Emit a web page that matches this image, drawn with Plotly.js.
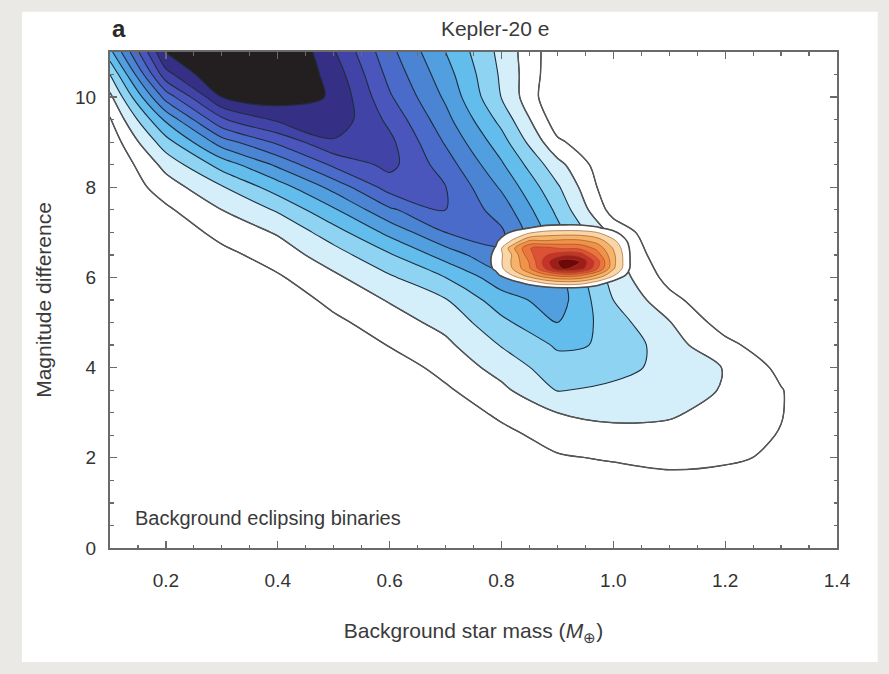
<!DOCTYPE html>
<html><head><meta charset="utf-8">
<script src="https://cdn.plot.ly/plotly-3.0.1.min.js"></script>
<style>html,body{margin:0;padding:0;background:#eae9e5}#chart{width:889px;height:674px}</style>
</head><body><div id="chart"></div>
<script>
// Background star mass grid (x) and magnitude difference grid (y)
const massX = [0.1,0.2,0.3,0.4,0.5,0.6,0.7,0.8,0.9,1.0,1.1,1.2,1.3,1.4];
const magY = [0,0.5,1,1.5,2,2.5,3,3.5,4,4.5,5,5.5,6,6.5,7,7.5,8,8.5,9,9.5,10,10.5,11];
// Background eclipsing binaries density level (rows = magY, cols = massX)
const densityRows = [
  [0,0,0,0,0,0,0,0,0,0,0,0,0,0],
  [0,0,0,0,0,0,0,0,0,0,0,0,0,0],
  [0,0,0,0,0,0,0,0,0,0.08,0.16,0.2,0,0],
  [0,0,0,0,0,0,0,0,0.32,0.52,0.76,0.7,0.3,0],
  [0,0,0,0,0,0,0,0.2,0.88,1.11,1.27,1.14,0.85,0],
  [0,0,0,0,0,0,0,0.68,1.44,1.69,1.73,1.41,0.95,0],
  [0,0,0,0,0,0,0.32,1.24,2.0,2.25,2.12,1.69,1.05,0],
  [0,0,0,0,0,0,0.85,1.77,3.05,2.78,2.41,1.93,1.05,0],
  [0,0,0,0,0,0.46,1.33,2.38,3.58,3.34,2.7,1.95,0.75,0],
  [0,0,0,0,0.24,1.05,1.78,3.06,4.13,3.9,2.38,1.3,0.25,0],
  [0,0,0,0,0.76,1.55,2.31,3.75,5.0,3.45,2.06,0.53,0.05,0],
  [0,0,0,0.3,1.3,2.08,2.93,4.55,5.5,3.0,1.33,0.08,0,0],
  [0,0,0.2,0.88,1.8,2.85,4.0,5.6,5.34,2.64,0.64,0,0,0],
  [0,0,0.7,1.47,2.55,3.89,5.43,6.9,4.89,2.29,0.16,0,0,0],
  [0,0.28,1.33,2.1,3.56,5.29,7.0,7.15,4.33,1.67,0,0,0,0],
  [0,0.82,2.0,3.13,4.86,6.83,8.0,6.57,3.76,0.58,0,0,0,0],
  [0,1.5,2.91,4.5,6.33,8.43,8.03,5.86,3.15,0.12,0,0,0,0],
  [0,2.33,4.41,6.2,8.2,9.3,7.5,5.14,2.34,0,0,0,0,0],
  [0.35,3.57,6.5,8.2,9.86,9.25,6.89,4.43,1.18,0,0,0,0,0],
  [0.9,5.2,8.85,10.19,10.7,8.75,6.33,3.67,0.43,0,0,0,0,0],
  [1.75,7.4,11.0,11.5,10.9,8.13,5.83,2.97,0,0,0,0,0,0],
  [3.0,9.64,12.2,12.2,10.6,7.69,5.42,2.84,0.2,0,0,0,0,0],
  [4.7,11.1,12.5,12.5,10.1,7.3,5.0,2.7,0.3,0,0,0,0,0]
];
// Kepler-20 e candidate region (local grid)
const blobX = [0.76,0.79,0.82,0.85,0.88,0.91,0.94,0.97,1.00,1.03,1.06];
const blobY = [5.6,5.75,5.9,6.05,6.2,6.35,6.5,6.65,6.8,6.95,7.1,7.25];
const blobRows = [
  [-1,-1,-1,-0.92,-0.68,-0.56,-0.6,-0.84,-1,-1,-1],
  [-1,-0.79,-0.25,0.2,0.51,0.66,0.61,0.3,-0.22,-0.89,-1],
  [-0.66,0.06,0.71,1.57,2.44,2.88,2.73,1.85,0.75,-0.06,-0.96],
  [-0.1,0.72,2.05,3.56,4.78,5.46,5.22,3.95,2.15,0.58,-0.42],
  [0.22,1.2,3.05,4.88,7.2,9.2,8.6,6.3,3.17,0.95,-0.13],
  [0.26,1.31,3.2,5.08,7.6,9.6,9.0,6.6,3.32,1.0,-0.09],
  [0.24,1.26,3.12,5.72,6.93,7.8,7.6,5.6,3.24,0.98,-0.1],
  [0.18,1.08,3.72,5.97,6.28,5.84,5.76,4.76,2.92,0.9,-0.2],
  [0.06,0.85,2.22,4.25,4.16,4.36,4.32,3.71,2.31,0.72,-0.26],
  [-0.15,0.56,1.36,2.28,2.76,2.88,2.85,2.46,1.43,0.45,-0.5],
  [-0.45,0.17,0.66,0.99,1.31,1.4,1.38,1.11,0.69,0.08,-0.8],
  [-0.83,-0.3,0.1,0.34,0.46,0.49,0.48,0.39,0.12,-0.38,-1]
];
const blueBands = ['#ffffff','#ffffff','#d4eefa','#8fd3f2','#62bdec','#519fdf','#4a84d3','#4a6bc9','#4a56bb','#4243a6','#362f86','#231f20'];
const orangeBands = ['rgba(255,255,255,0)','#ffffff','#f9d6a5','#f5b36c','#f0934a','#ec7440','#dd5236','#c5332b','#9e1c1c','#6c0808'];

function bandScale(cols){ return cols.map((c,i)=>[i/(cols.length-1), c]); }

const traces = [
  {type:'contour', x:massX, y:magY, z:densityRows, autocontour:false,
   contours:{start:1,end:11,size:1,coloring:'fill'}, colorscale:bandScale(blueBands),
   showscale:false, showlegend:false, line:{color:'#1f2d3d',width:1.1,smoothing:0.9}, hoverinfo:'skip'},
  {type:'contour', x:massX, y:magY, z:densityRows, autocontour:false,
   contours:{start:1,end:2,size:1,coloring:'none'},
   showscale:false, showlegend:false, line:{color:'#555555',width:1.4,smoothing:0.9}, hoverinfo:'skip'},
  {type:'contour', x:blobX, y:blobY, z:blobRows, autocontour:false,
   contours:{start:1,end:9,size:1,coloring:'fill'}, colorscale:bandScale(orangeBands),
   showscale:false, showlegend:false, line:{color:'rgba(150,75,25,0.85)',width:0.7,smoothing:1}, hoverinfo:'skip'},
  {type:'contour', x:blobX, y:blobY, z:blobRows, autocontour:false,
   contours:{start:1,end:1.5,size:1,coloring:'none'},
   showscale:false, showlegend:false, line:{color:'#4d4d4d',width:1.6,smoothing:1}, hoverinfo:'skip'}
];

const axisCommon = {ticks:'inside', ticklen:7, tickwidth:1.3, tickcolor:'#6a6a6a',
  showline:true, linecolor:'#6a6a6a', linewidth:2, mirror:'ticks', showgrid:false, zeroline:false,
  tickfont:{size:19, color:'#333'}};

const layout = {
  width:889, height:674, showlegend:false,
  paper_bgcolor:'#eae9e5', plot_bgcolor:'#ffffff',
  margin:{l:110,r:52,t:52,b:126},
  font:{family:'Liberation Sans, Arial, sans-serif', color:'#3a3a3a'},
  title:{text:'Kepler-20 e', xref:'container', x:0.557, xanchor:'center', yref:'container', y:0.958, yanchor:'middle', font:{size:21,color:'#3a3a3a'}},
  xaxis:Object.assign({}, axisCommon, {range:[0.1,1.4], tick0:0.2, dtick:0.2, tickformat:'.1f',
    minor:{dtick:0.05, ticks:'inside', ticklen:3.5, tickcolor:'#6a6a6a', tickwidth:1.2},
    ticklabelstandoff:14,
    title:{text:'Background star mass (<i>M</i><sub>⊕</sub>)', font:{size:21,color:'#3a3a3a'}, standoff:34}}),
  yaxis:Object.assign({}, axisCommon, {range:[0,11], tick0:0, dtick:2,
    minor:{dtick:0.5, ticks:'inside', ticklen:3.5, tickcolor:'#6a6a6a', tickwidth:1.2},
    ticklabelstandoff:8,
    title:{text:'Magnitude difference', font:{size:21,color:'#3a3a3a'}, standoff:18}}),
  shapes:[{type:'rect', xref:'paper', yref:'paper', x0:-0.121, x1:1.056, y0:-0.23, y1:1.081,
    fillcolor:'#ffffff', line:{width:0}, layer:'below'}],
  annotations:[
    {text:'<b>a</b>', xref:'paper', yref:'paper', x:0, y:1.048, xanchor:'left', yanchor:'middle', showarrow:false, font:{size:24,color:'#2a2a2a'}},
    {text:'Background eclipsing binaries', xref:'paper', yref:'paper', x:0.032, y:0.06, xanchor:'left', yanchor:'middle', showarrow:false, font:{size:20,color:'#3a3a3a'}}
  ]
};
Plotly.newPlot('chart', traces, layout, {displayModeBar:false, staticPlot:true});
</script></body></html>
